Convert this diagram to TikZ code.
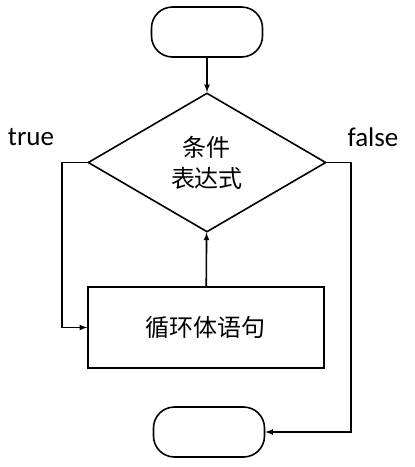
\documentclass[tikz,border=0pt]{standalone}
\usepackage{fontspec}
\setmainfont{Carlito}
\newfontfamily\cjk{Noto Sans CJK SC}
\usepackage{tikz}
\usetikzlibrary{shapes.geometric}
\tikzset{%
  term/.style  = {shape=rectangle, rounded corners=21pt, draw,%
                  minimum width=111pt, minimum height=50pt},%
  cond/.style  = {shape=diamond, draw, align=center, inner sep=0pt,%
                  minimum width=238pt, minimum height=139pt,%
                  font=\cjk\fontsize{24}{31}\selectfont},%
  body/.style  = {shape=rectangle, draw, minimum width=236pt,%
                  minimum height=81pt, font=\cjk\fontsize{24}{31}\selectfont},%
  tag/.style   = {font=\fontsize{27}{30}\selectfont}%
}
\begin{document}
\begin{tikzpicture}[x=1pt,y=-1pt,>=latex,line width=1.6pt]
		\useasboundingbox (0,0) rectangle (415,467);
		\node[term] (start) at (207,32) {};
		\node[cond] (test) at (207,162.5) {条件\\表达式};
		\node[body] (loop) at (206,327.5) {循环体语句};
		\node[term] (stop) at (209,432) {};
		\node[tag] (true) at (31,137) {true};
		\node[tag] (false) at (373,137) {false};
		\coordinate (tleft) at (62,162.5);
		\coordinate (fright) at (351,162.5);
		\draw[->] (start) -- (test);
		\draw[->] (loop) -- (test);
		\draw[->] (test.west) -- (tleft) |- (loop.west);
		\draw[->] (test.east) -- (fright) |- (stop.east);
\end{tikzpicture}
\end{document}
